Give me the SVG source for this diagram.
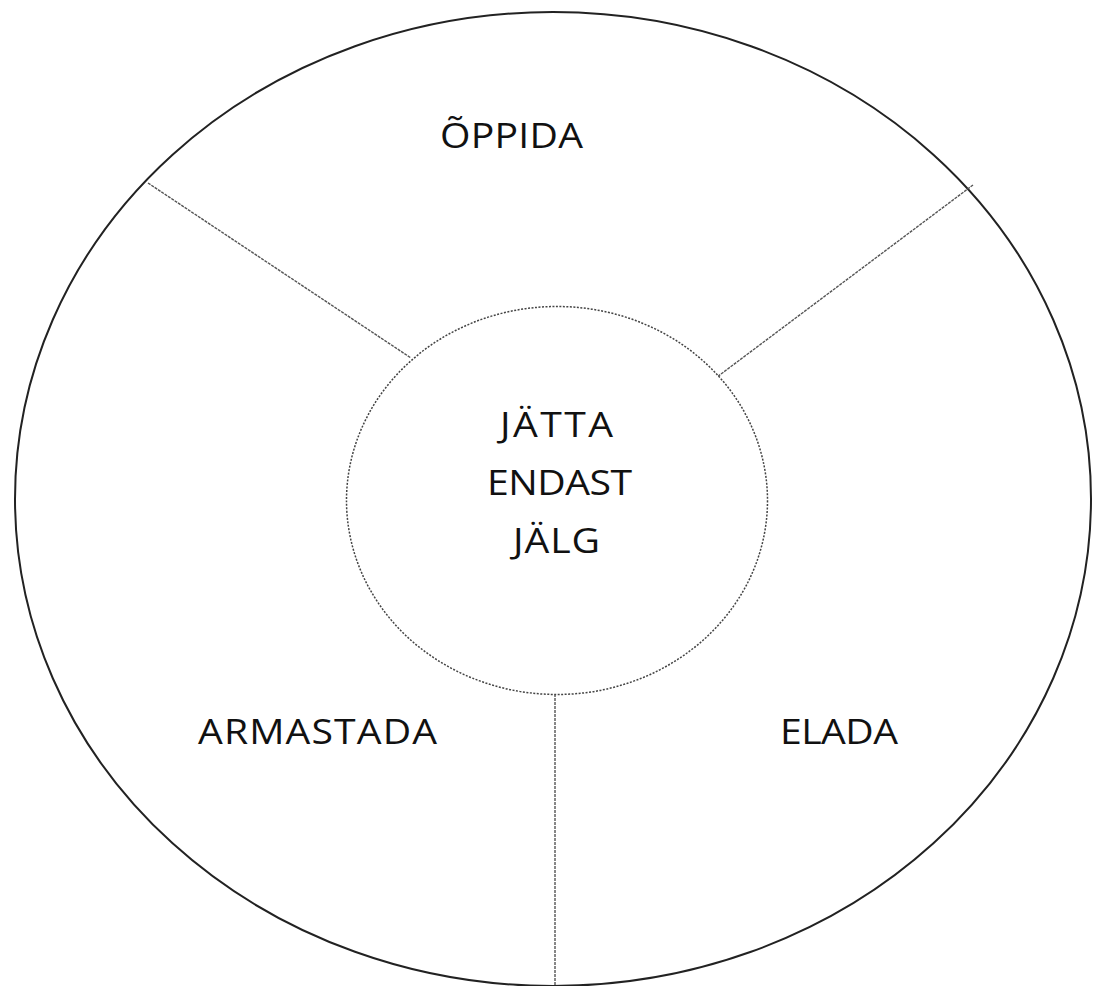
<svg xmlns="http://www.w3.org/2000/svg" width="1095" height="986" viewBox="0 0 1095 986">
<style>
.lbl{font-family:"Open Sans","Noto Sans","Liberation Sans",sans-serif;font-size:35px;fill:#111;text-anchor:middle}
.div{stroke:#555;stroke-width:1.4;fill:none;stroke-dasharray:3 1}
</style>
<rect width="1095" height="986" fill="#fff"/>
<g id="outer">
<ellipse cx="553" cy="499" rx="538" ry="487" fill="none" stroke="#222" stroke-width="2"/>
</g>
<g id="connectors">
<line class="div" x1="148" y1="183" x2="411" y2="358"/>
<line class="div" x1="973" y1="185" x2="717" y2="377"/>
<line class="div" x1="555" y1="694" x2="555" y2="986"/>
</g>
<g id="center">
<ellipse cx="557" cy="500.5" rx="210.5" ry="194" fill="#fff" stroke="#444" stroke-width="1.5" stroke-dasharray="2 1.5"/>
<text class="lbl" transform="translate(556.5,437) scale(1.12,1)" textLength="101" lengthAdjust="spacing">JÄTTA</text>
<text class="lbl" transform="translate(559.5,495) scale(1.12,1)" textLength="129.5" lengthAdjust="spacing">ENDAST</text>
<text class="lbl" transform="translate(556.5,553) scale(1.12,1)" textLength="77.7" lengthAdjust="spacing">JÄLG</text>
</g>
<g id="oppida"><text class="lbl" transform="translate(511.5,148) scale(1.12,1)" textLength="127.7" lengthAdjust="spacing">ÕPPIDA</text></g>
<g id="armastada"><text class="lbl" transform="translate(317.5,744) scale(1.12,1)" textLength="213.4" lengthAdjust="spacing">ARMASTADA</text></g>
<g id="elada"><text class="lbl" transform="translate(839,744) scale(1.12,1)" textLength="105.4" lengthAdjust="spacing">ELADA</text></g>
</svg>
